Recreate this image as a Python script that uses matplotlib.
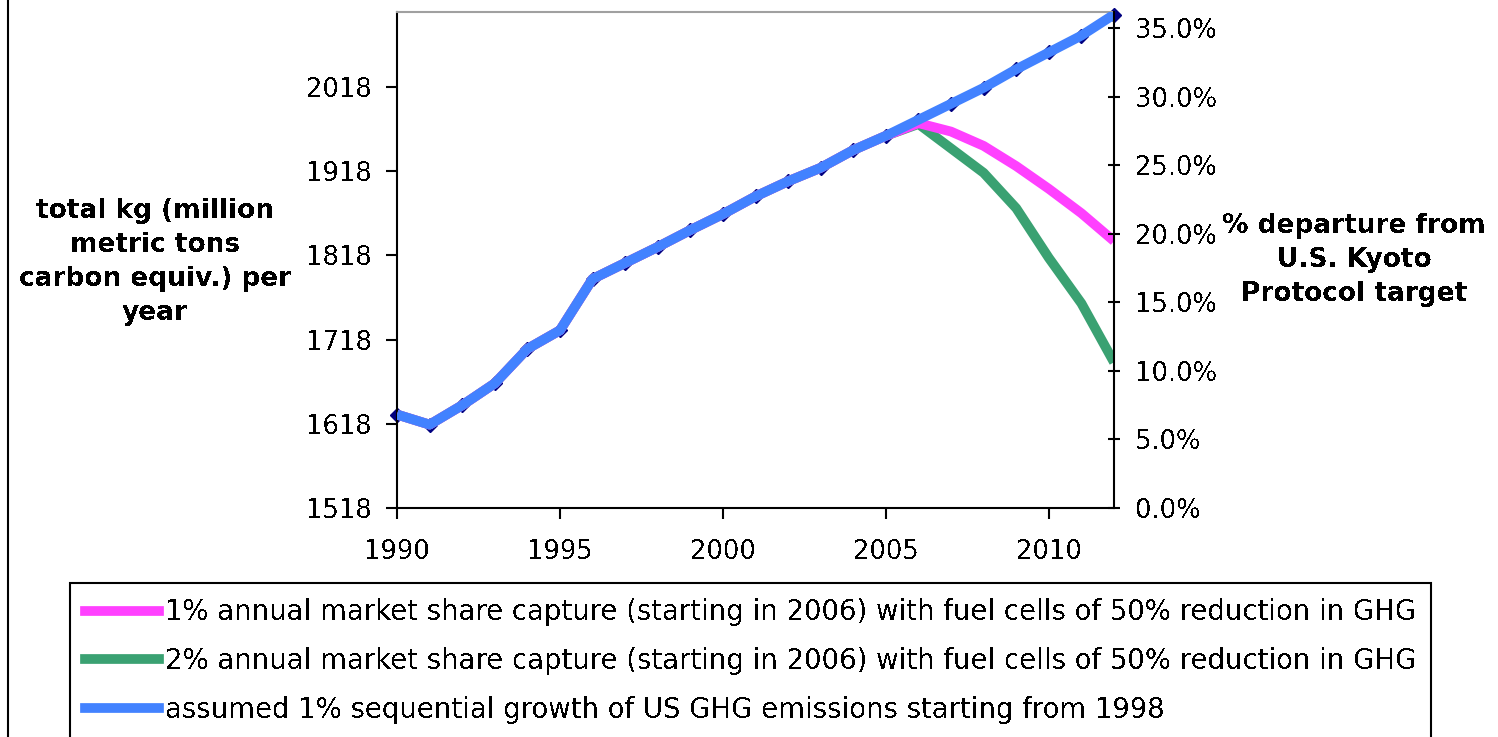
import numpy as np
import matplotlib
matplotlib.use("Agg")
import matplotlib.pyplot as plt
from matplotlib.lines import Line2D
from matplotlib.ticker import FuncFormatter

plt.rcParams['font.family'] = ['DejaVu Sans']
plt.rcParams['text.antialiased'] = False

years = np.arange(1990, 2013)

# assumed 1% sequential growth from 1998 (million metric tons carbon equiv.)
baseline = [1629, 1617, 1640, 1666, 1707, 1729, 1790, 1809, 1828, 1848, 1867,
            1888, 1906, 1922, 1943, 1960, 1979, 1998, 2017, 2039, 2059, 2079, 2104]
# fuel cell scenarios, 2006 onwards (earlier years follow the baseline)
capture_1pct_tail = [1975, 1965, 1948, 1924, 1897, 1868, 1835]
capture_2pct_tail = [1974, 1945, 1916, 1874, 1815, 1761, 1691]

capture_1pct = baseline[:16] + capture_1pct_tail
capture_2pct = baseline[:16] + capture_2pct_tail

labels = [
    "1% annual market share capture (starting in 2006) with fuel cells of 50% reduction in GHG",
    "2% annual market share capture (starting in 2006) with fuel cells of 50% reduction in GHG",
    "assumed 1% sequential growth of US GHG emissions starting from 1998",
]

left_ticks = [1518, 1618, 1718, 1818, 1918, 2018]
right_ticks = [0.0, 0.05, 0.10, 0.15, 0.20, 0.25, 0.30, 0.35]

pink = '#ff40ff'
green = '#3aa172'
blue = '#4282ff'
navy = '#000080'

fs = 18.5

fig = plt.figure(figsize=(14.98, 7.37), dpi=100)
ax = fig.add_axes([397 / 1498, 1 - 508 / 737, (1114 - 397) / 1498, (508 - 12) / 737])

ax.plot(years, baseline, color=navy, lw=2, marker='D', ms=7, zorder=2, clip_on=False)
ax.plot(years, capture_2pct, color=green, lw=7, solid_capstyle='butt', zorder=3)
ax.plot(years, capture_1pct, color=pink, lw=7, solid_capstyle='butt', zorder=4)
ax.plot(years, baseline, color=blue, lw=7, solid_capstyle='butt', zorder=5)

ax.set_xlim(1990, 2012)
ax.set_ylim(1518, 2107)
ax.set_xticks([1990, 1995, 2000, 2005, 2010])
ax.set_yticks(left_ticks)
ax.tick_params(axis='both', labelsize=fs, width=1.5, length=8, direction='out',
               colors='black')
ax.tick_params(axis='x', pad=14)
ax.tick_params(axis='y', pad=10)
ax.spines['top'].set_color('#a0a0a0')
ax.spines['top'].set_linewidth(1.5)
ax.spines['left'].set_linewidth(1.5)
ax.spines['bottom'].set_linewidth(1.5)
ax.spines['right'].set_visible(False)

ax2 = ax.twinx()
ax2.set_ylim(0, 0.362)
ax2.set_yticks(right_ticks)
ax2.yaxis.set_major_formatter(FuncFormatter(lambda v, _: f"{v * 100:.1f}%"))
ax2.tick_params(axis='y', labelsize=fs, width=1.5, length=8, direction='inout', pad=11)
ax2.spines['right'].set_linewidth(1.5)
for s in ('top', 'left', 'bottom'):
    ax2.spines[s].set_visible(False)

fig.text(155 / 1498, 1 - 262 / 737, "total kg (million\nmetric tons\ncarbon equiv.) per\nyear",
         ha='center', va='center', fontsize=19, fontweight='bold', linespacing=1.4)
fig.text(1354 / 1498, 1 - 260 / 737, "% departure from\nU.S. Kyoto\nProtocol target",
         ha='center', va='center', fontsize=19, fontweight='bold', linespacing=1.4)

handles = [Line2D([], [], color=c, lw=7) for c in (pink, green, blue)]
leg = fig.legend(handles, labels, loc='upper left',
                 bbox_to_anchor=(70 / 1498, 1 - 583 / 737), fontsize=19.8,
                 handlelength=2.7, handletextpad=0.2, labelspacing=0.76,
                 borderpad=0.55, borderaxespad=0, fancybox=False, framealpha=1)
leg.get_frame().set_edgecolor('black')
leg.get_frame().set_linewidth(1.5)

# outer chart border on the left
fig.add_artist(Line2D([8 / 1498, 8 / 1498], [0, 1], color='black', lw=1.5))

fig.savefig('out.png', dpi=100)
